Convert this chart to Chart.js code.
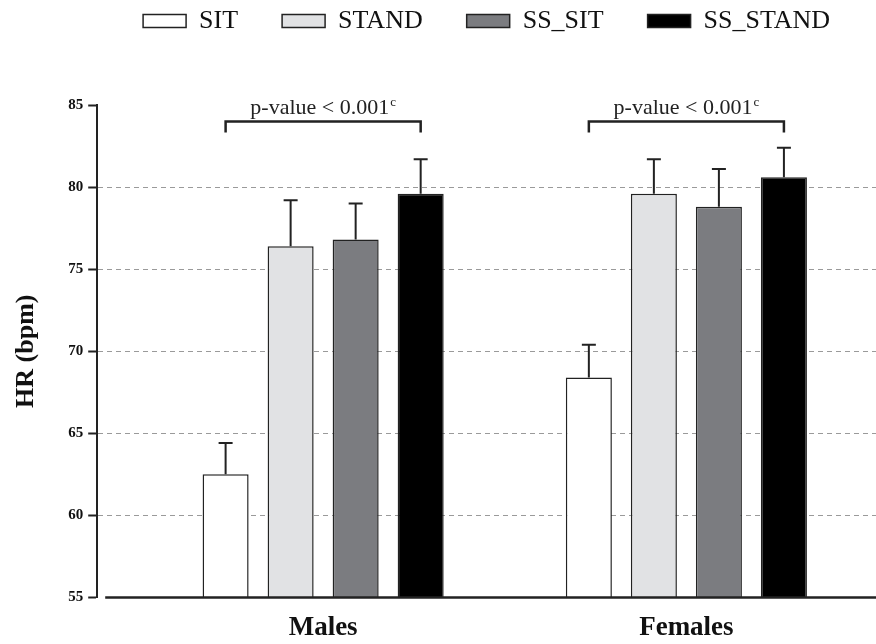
<!DOCTYPE html>
<html>
<head>
<meta charset="utf-8">
<script src="https://cdn.jsdelivr.net/npm/chart.js@4.4.1/dist/chart.umd.min.js"></script>
<style>
  html, body { margin: 0; padding: 0; background: #fff; }
  #wrap { width: 876px; height: 644px; }
</style>
</head>
<body>
<div id="wrap"><canvas id="hr"></canvas></div>
<script>
// Groups on the x axis (placed at 1 and 2 on a linear scale)
const groups = ['Males', 'Females'];
const groupPos = [1, 2];

// Mean HR (bpm) per condition, [Males, Females]
const meanSIT = [62.5, 68.4];
const meanSTAND = [76.4, 79.6];
const meanSS_SIT = [76.8, 78.8];
const meanSS_STAND = [79.6, 80.6];

// Upper error bar length (SD), [Males, Females]
const sdSIT = [1.9, 2.0];
const sdSTAND = [2.8, 2.1];
const sdSS_SIT = [2.2, 2.3];
const sdSS_STAND = [2.1, 1.8];

const yTicks = [55, 60, 65, 70, 75, 80, 85];
const pLabel = 'p-value < 0.001';
const pSup = 'c';
const bracketLevel = 84.0;

const SERIF = "'Liberation Serif', 'Times New Roman', serif";
const INK = '#222';

// error bars, significance brackets and the bottom axis line
const overlayPlugin = {
  id: 'overlay',
  afterDatasetsDraw(chart) {
    const { ctx, chartArea, scales: { y } } = chart;
    ctx.save();
    ctx.strokeStyle = INK;
    ctx.fillStyle = INK;
    ctx.lineWidth = 2;

    chart.data.datasets.forEach((ds, di) => {
      const meta = chart.getDatasetMeta(di);
      meta.data.forEach((bar, i) => {
        const top = y.getPixelForValue(ds.data[i] + ds.sd[i]);
        ctx.beginPath();
        ctx.moveTo(bar.x, bar.y);
        ctx.lineTo(bar.x, top);
        ctx.moveTo(bar.x - 7, top);
        ctx.lineTo(bar.x + 7, top);
        ctx.stroke();
      });
    });

    // x axis line, leaves a small gap at the y axis
    ctx.lineWidth = 2.5;
    ctx.beginPath();
    ctx.moveTo(chartArea.left + 8, chartArea.bottom);
    ctx.lineTo(chartArea.right, chartArea.bottom);
    ctx.stroke();

    // brackets between SIT and SS_STAND
    const first = chart.getDatasetMeta(0);
    const last = chart.getDatasetMeta(chart.data.datasets.length - 1);
    const by = y.getPixelForValue(bracketLevel);
    groups.forEach((g, i) => {
      const x1 = first.data[i].x;
      const x2 = last.data[i].x;
      ctx.beginPath();
      ctx.moveTo(x1, by + 11);
      ctx.lineTo(x1, by);
      ctx.lineTo(x2, by);
      ctx.lineTo(x2, by + 11);
      ctx.stroke();

      ctx.font = '22px ' + SERIF;
      const w1 = ctx.measureText(pLabel).width;
      ctx.font = '13px ' + SERIF;
      const w2 = ctx.measureText(pSup).width;
      const start = (x1 + x2) / 2 - (w1 + w2 + 1) / 2;
      ctx.textBaseline = 'alphabetic';
      ctx.textAlign = 'left';
      ctx.font = '22px ' + SERIF;
      ctx.fillText(pLabel, start, by - 7);
      ctx.font = '13px ' + SERIF;
      ctx.fillText(pSup, start + w1 + 1, by - 15);
    });
    ctx.restore();
  }
};

function barSet(label, data, sd, fill) {
  return {
    label,
    data,
    sd,
    backgroundColor: fill,
    borderColor: INK,
    borderWidth: 1.5,
    borderSkipped: false,
    categoryPercentage: 0.716,
    barPercentage: 0.708
  };
}

new Chart(document.getElementById('hr'), {
  type: 'bar',
  data: {
    labels: groupPos,
    datasets: [
      barSet('SIT', meanSIT, sdSIT, '#ffffff'),
      barSet('STAND', meanSTAND, sdSTAND, '#e1e2e4'),
      barSet('SS_SIT', meanSS_SIT, sdSS_SIT, '#7b7c80'),
      barSet('SS_STAND', meanSS_STAND, sdSS_STAND, '#000000')
    ]
  },
  plugins: [overlayPlugin],
  options: {
    responsive: true,
    maintainAspectRatio: false,
    animation: false,
    layout: { padding: { top: -36, left: 0, right: 0, bottom: -15 } },
    plugins: {
      tooltip: { enabled: false },
      legend: {
        position: 'top',
        fullSize: false,
        labels: {
          boxWidth: 43,
          boxHeight: 13,
          padding: 44,
          color: '#111',
          font: { family: SERIF, size: 26 }
        }
      },
      // empty spacer between legend and plot
      title: {
        display: true,
        text: '',
        weight: 500,
        font: { size: 10, lineHeight: 1 },
        padding: { top: 0, bottom: 51 }
      }
    },
    scales: {
      x: {
        type: 'linear',
        min: 0.378,
        max: 2.522,
        offset: false,
        afterBuildTicks: (scale) => {
          scale.ticks = groupPos.map(v => ({ value: v }));
        },
        grid: { display: false, drawTicks: false },
        border: { display: false },
        ticks: {
          padding: 14.6,
          color: '#111',
          font: { family: SERIF, size: 27, weight: 'bold' },
          callback: (v) => groups[groupPos.indexOf(v)]
        }
      },
      y: {
        min: 55,
        max: 85,
        afterBuildTicks: (scale) => {
          scale.ticks = yTicks.map(v => ({ value: v }));
        },
        border: { display: true, color: INK, width: 2, dash: [5, 4] },
        grid: {
          color: (c) => (c.tick && (c.tick.value === 55 || c.tick.value === 85)) ? 'rgba(0,0,0,0)' : '#9a9a9a',
          lineWidth: 1,
          tickColor: INK,
          tickWidth: 2,
          tickLength: 9,
          tickBorderDash: []
        },
        ticks: {
          padding: 5,
          color: '#111',
          font: { family: SERIF, size: 15, weight: 'bold' }
        },
        title: {
          display: true,
          text: 'HR (bpm)',
          color: '#111',
          font: { family: SERIF, size: 26, weight: 'bold' },
          padding: { top: 11, bottom: 21 }
        }
      }
    }
  }
});
</script>
</body>
</html>
